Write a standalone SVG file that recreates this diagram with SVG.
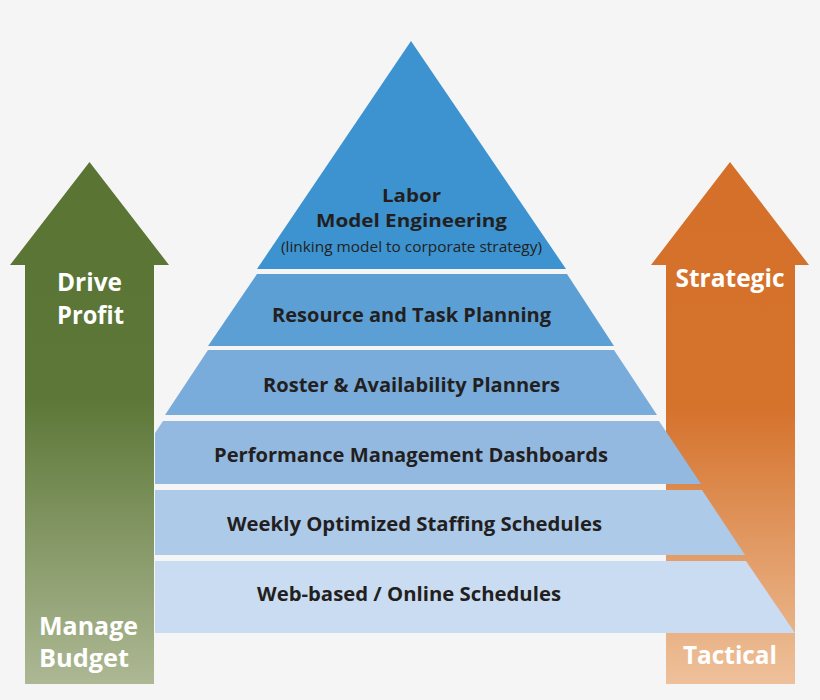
<svg xmlns="http://www.w3.org/2000/svg" width="820" height="700" viewBox="0 0 820 700">
  <defs>
    <linearGradient id="gGreen" gradientUnits="userSpaceOnUse" x1="0" y1="162" x2="0" y2="684">
      <stop offset="0" stop-color="#5a7434"/>
      <stop offset="0.45" stop-color="#5c7737"/>
      <stop offset="1" stop-color="#adb894"/>
    </linearGradient>
    <linearGradient id="gOrange" gradientUnits="userSpaceOnUse" x1="0" y1="162" x2="0" y2="684">
      <stop offset="0" stop-color="#d4702a"/>
      <stop offset="0.47" stop-color="#d5722c"/>
      <stop offset="1" stop-color="#eec19b"/>
    </linearGradient>
    <style>
      .lbl { font-family: "Open Sans", "Liberation Sans", sans-serif; font-weight: 700; fill: #231f20; text-anchor: middle; }
      .sub { font-family: "Open Sans", "Liberation Sans", sans-serif; font-weight: 400; fill: #231f20; text-anchor: middle; }
      .wht { font-family: "Open Sans", "Liberation Sans", sans-serif; font-weight: 700; fill: #ffffff; }
    </style>
  </defs>
  <rect x="0" y="0" width="820" height="700" fill="#f5f5f5"/>

  <g id="arrow-strategic">
    <polygon points="730,162 809,265 795,265 795,684 666,684 666,265 651,265" fill="url(#gOrange)"/>
    <text class="wht" x="730" y="287" font-size="24.5" text-anchor="middle" textLength="109" lengthAdjust="spacingAndGlyphs">Strategic</text>
    <text class="wht" x="730" y="664" font-size="24.5" text-anchor="middle" textLength="94" lengthAdjust="spacingAndGlyphs">Tactical</text>
  </g>

  <g id="arrow-profit">
    <polygon points="89.5,162 169,265 154,265 154,684 25,684 25,265 10,265" fill="url(#gGreen)"/>
    <text class="wht" x="89.5" y="291" font-size="24.5" text-anchor="middle" textLength="65" lengthAdjust="spacingAndGlyphs">Drive</text>
    <text class="wht" x="90.5" y="324" font-size="24.5" text-anchor="middle" textLength="67" lengthAdjust="spacingAndGlyphs">Profit</text>
    <text class="wht" x="39" y="635" font-size="24.5" textLength="99" lengthAdjust="spacingAndGlyphs">Manage</text>
    <text class="wht" x="39" y="667" font-size="24.5" textLength="90" lengthAdjust="spacingAndGlyphs">Budget</text>
  </g>

  <g id="pyramid">
    <g id="layer-labor-model">
      <polygon points="411,41 566,269 257,269" fill="#3c93d0"/>
      <text class="lbl" x="411.5" y="202" font-size="18.4" textLength="59" lengthAdjust="spacingAndGlyphs">Labor</text>
      <text class="lbl" x="411.5" y="227" font-size="18.4" textLength="191" lengthAdjust="spacingAndGlyphs">Model Engineering</text>
      <text class="sub" x="411.5" y="252" font-size="14.5" textLength="261" lengthAdjust="spacingAndGlyphs">(linking model to corporate strategy)</text>
    </g>
    <g id="layer-resource">
      <polygon points="257,274 567,274 614,346 208,346" fill="#5c9fd5"/>
      <text class="lbl" x="411.5" y="322" font-size="19.6" textLength="279" lengthAdjust="spacingAndGlyphs">Resource and Task Planning</text>
    </g>
    <g id="layer-roster">
      <polygon points="208,350 614,350 657,415 165,415" fill="#79acdb"/>
      <text class="lbl" x="411.5" y="392" font-size="19.6" textLength="297" lengthAdjust="spacingAndGlyphs">Roster &amp; Availability Planners</text>
    </g>
    <g id="layer-performance">
      <polygon points="163,421 659,421 701,484 155,484 155,433" fill="#93b9e1"/>
      <text class="lbl" x="411" y="462" font-size="19.6" textLength="394" lengthAdjust="spacingAndGlyphs">Performance Management Dashboards</text>
    </g>
    <g id="layer-weekly">
      <polygon points="155,490 702,490 745,555 155,555" fill="#aecae9"/>
      <text class="lbl" x="414.5" y="531" font-size="19.6" textLength="375" lengthAdjust="spacingAndGlyphs">Weekly Optimized Staffing Schedules</text>
    </g>
    <g id="layer-web">
      <polygon points="155,561 746,561 795,633 155,633" fill="#c9dcf1"/>
      <text class="lbl" x="409" y="601" font-size="19.6" textLength="304" lengthAdjust="spacingAndGlyphs">Web-based / Online Schedules</text>
    </g>
  </g>

  <g id="connectors"/>
</svg>
